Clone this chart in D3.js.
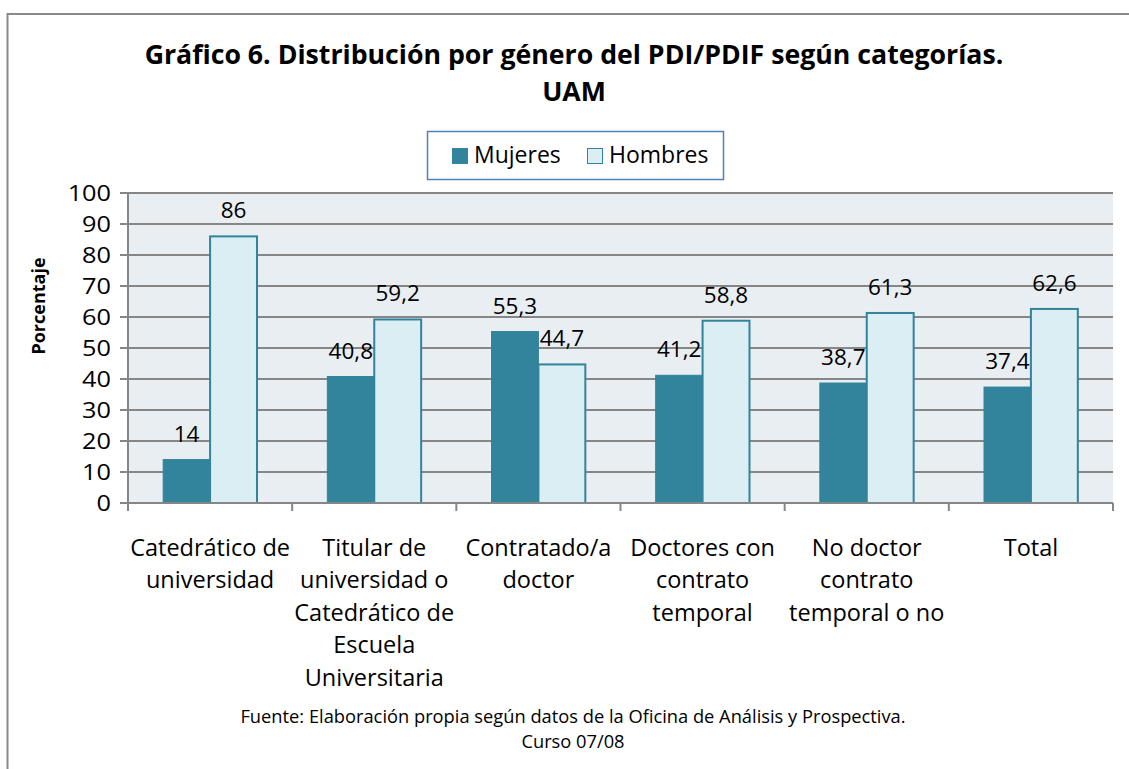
<!DOCTYPE html>
<html>
<head>
    <meta charset="utf-8">
    <title>Gráfico 6</title>
    <script src="https://d3js.org/d3.v7.min.js"></script>
    <style>
        body {
            margin: 0;
            background-color: white;
            font-family: "Open Sans", Lato, sans-serif;
        }
        svg text { fill: #000; }
    </style>
</head>
<body>
    <div id="chart"></div>
    <script>
        // Data
        const categories = [
            "Catedrático de\nuniversidad",
            "Titular de\nuniversidad o\nCatedrático de\nEscuela\nUniversitaria",
            "Contratado/a\ndoctor",
            "Doctores con\ncontrato\ntemporal",
            "No doctor\ncontrato\ntemporal o no",
            "Total"
        ];
        const seriesNames = ["Mujeres", "Hombres"];
        const mujeres = [14, 40.8, 55.3, 41.2, 38.7, 37.4];
        const hombres = [86, 59.2, 44.7, 58.8, 61.3, 62.6];
        const yTicks = [0, 10, 20, 30, 40, 50, 60, 70, 80, 90, 100];

        const width = 1129;
        const height = 769;
        const colors = { Mujeres: "#31849b", Hombres: "#dbeef4" };
        const edge = "#31849b";

        const svg = d3.select("#chart")
            .append("svg")
            .attr("width", width)
            .attr("height", height);

        // outer frame (only left and top visible)
        svg.append("path")
            .attr("d", `M7.5,${height} V14 H${width}`)
            .attr("fill", "none")
            .attr("stroke", "#898989")
            .attr("stroke-width", 2);

        // Title
        svg.append("text")
            .attr("x", 574).attr("y", 64)
            .attr("text-anchor", "middle")
            .attr("font-size", 26.7).attr("font-weight", "bold")
            .text("Gráfico 6. Distribución por género del PDI/PDIF según categorías.");
        svg.append("text")
            .attr("x", 574).attr("y", 101)
            .attr("text-anchor", "middle")
            .attr("font-size", 26.7).attr("font-weight", "bold")
            .text("UAM");

        // Legend
        const legend = svg.append("g");
        legend.append("rect")
            .attr("x", 427.5).attr("y", 131.5)
            .attr("width", 296).attr("height", 48)
            .attr("fill", "white")
            .attr("stroke", "#4f81bd").attr("stroke-width", 1.5);
        const legendX = [452, 587];
        seriesNames.forEach((name, i) => {
            legend.append("rect")
                .attr("x", legendX[i] + 0.5).attr("y", 148.5)
                .attr("width", 15).attr("height", 15)
                .attr("fill", colors[name])
                .attr("stroke", edge).attr("stroke-width", 1);
            legend.append("text")
                .attr("x", legendX[i] + 22).attr("y", 163)
                .attr("font-size", 23)
                .text(name);
        });

        // Plot area
        const plot = { left: 128, right: 1113, top: 193, bottom: 503 };

        const x = d3.scaleBand()
            .domain(d3.range(categories.length))
            .range([plot.left, plot.right]);
        const bw = x.bandwidth() / 3.5;   // gap width 150%

        const y = d3.scaleLinear()
            .domain([0, 100])
            .range([plot.bottom, plot.top]);

        svg.append("rect")
            .attr("x", plot.left).attr("y", plot.top)
            .attr("width", plot.right - plot.left)
            .attr("height", plot.bottom - plot.top)
            .attr("fill", "#e8eef2");

        // grid lines
        svg.append("g")
            .selectAll("line")
            .data(yTicks)
            .join("line")
            .attr("x1", plot.left - 8).attr("x2", plot.right)
            .attr("y1", d => y(d)).attr("y2", d => y(d))
            .attr("stroke", "#868686").attr("stroke-width", 2);

        // y axis labels (slightly widened, like the original)
        svg.append("g")
            .attr("transform", "translate(111,0) scale(1.15,1)")
            .selectAll("text")
            .data(yTicks)
            .join("text")
            .attr("x", 0)
            .attr("y", d => y(d) + 8)
            .attr("text-anchor", "end")
            .attr("font-size", 22)
            .text(d => d);

        svg.append("text")
            .attr("transform", "translate(45,306) rotate(-90)")
            .attr("text-anchor", "middle")
            .attr("font-size", 18).attr("font-weight", "bold")
            .text("Porcentaje");

        // y axis line
        svg.append("line")
            .attr("x1", plot.left).attr("x2", plot.left)
            .attr("y1", plot.top).attr("y2", plot.bottom)
            .attr("stroke", "#868686").attr("stroke-width", 2);

        // bars
        const series = [mujeres, hombres];
        series.forEach((vals, s) => {
            const name = seriesNames[s];
            const bx = i => x(i) + 0.75 * bw + s * bw;
            svg.append("g")
                .selectAll("rect")
                .data(vals)
                .join("rect")
                .attr("x", (d, i) => bx(i))
                .attr("y", d => y(d))
                .attr("width", bw)
                .attr("height", d => y(0) - y(d))
                .attr("fill", colors[name])
                .attr("stroke", edge)
                .attr("stroke-width", s === 1 ? 2 : 1);

            svg.append("g")
                .selectAll("text")
                .data(vals)
                .join("text")
                .attr("x", (d, i) => bx(i) + bw / 2)
                .attr("y", d => y(d) - 18)
                .attr("text-anchor", "middle")
                .attr("font-size", 22.5)
                .text(d => String(d).replace(".", ","));
        });

        // x axis
        svg.append("line")
            .attr("x1", plot.left - 8).attr("x2", plot.right)
            .attr("y1", plot.bottom).attr("y2", plot.bottom)
            .attr("stroke", "#868686").attr("stroke-width", 2);
        svg.append("g")
            .selectAll("line")
            .data(d3.range(categories.length + 1))
            .join("line")
            .attr("x1", i => plot.left + i * x.step())
            .attr("x2", i => plot.left + i * x.step())
            .attr("y1", plot.bottom).attr("y2", plot.bottom + 8)
            .attr("stroke", "#868686").attr("stroke-width", 2);

        // category labels
        categories.forEach((c, i) => {
            const t = svg.append("text")
                .attr("text-anchor", "middle")
                .attr("font-size", 23.5);
            c.split("\n").forEach((line, k) => {
                t.append("tspan")
                    .attr("x", x(i) + x.bandwidth() / 2)
                    .attr("y", 556 + k * 32.4)
                    .text(line);
            });
        });

        // footer
        svg.append("text")
            .attr("x", 573).attr("y", 723)
            .attr("text-anchor", "middle")
            .attr("font-size", 18.3)
            .text("Fuente: Elaboración propia según datos de la Oficina de Análisis y Prospectiva.");
        svg.append("text")
            .attr("x", 573).attr("y", 748)
            .attr("text-anchor", "middle")
            .attr("font-size", 18.3)
            .text("Curso 07/08");
    </script>
</body>
</html>
